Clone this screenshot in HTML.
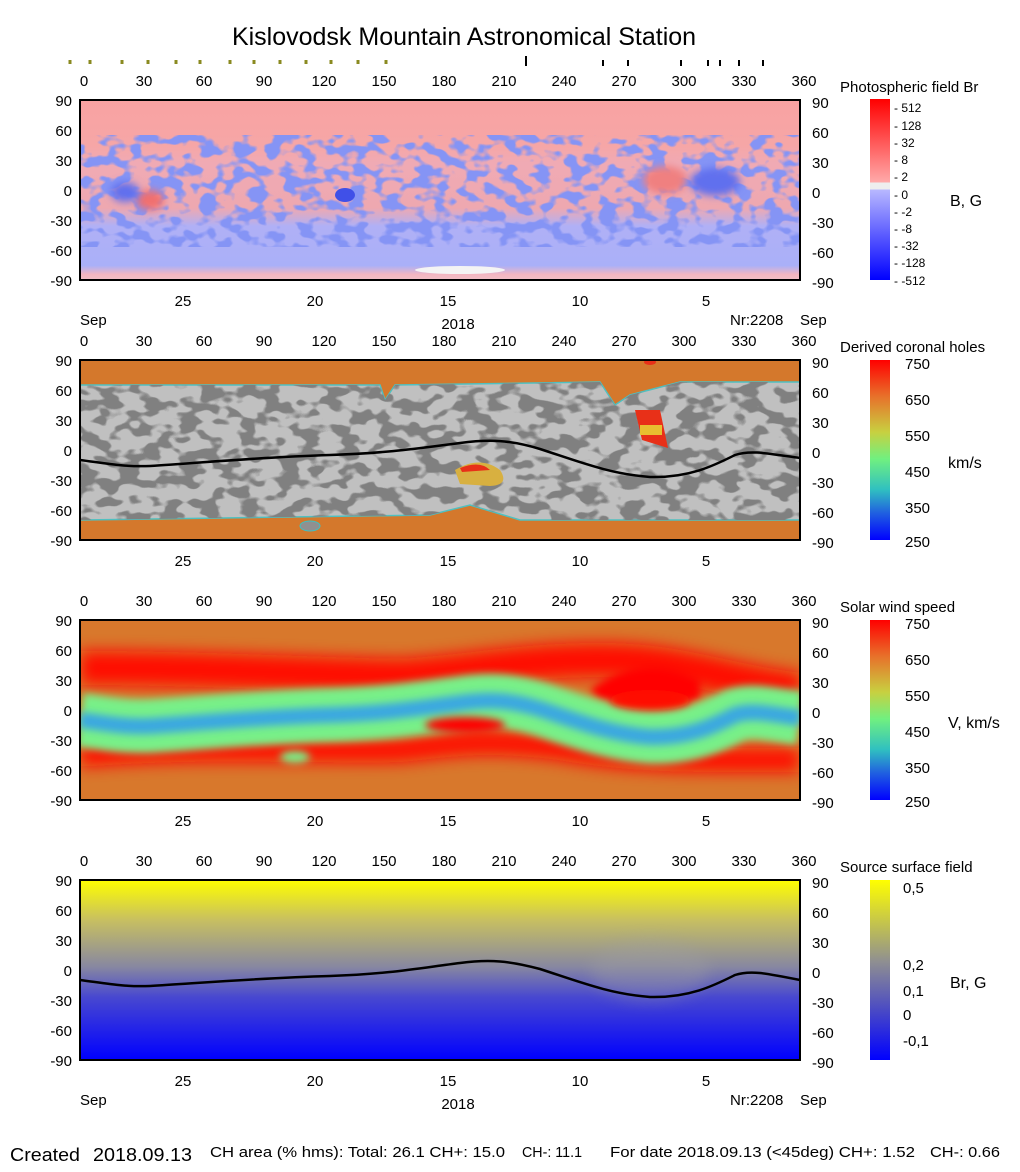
<!DOCTYPE html>
<html><head><meta charset="utf-8"><style>
body{margin:0;background:#fff}
svg{display:block;font-family:"Liberation Sans",Arial,sans-serif}
.t{font-size:15px;fill:#000}
</style></head><body>
<svg width="1020" height="1172" viewBox="0 0 1020 1172" xmlns="http://www.w3.org/2000/svg">
<defs>
<filter id="nb" x="0" y="0" width="100%" height="100%" color-interpolation-filters="sRGB"><feTurbulence type="fractalNoise" baseFrequency="0.06 0.09" numOctaves="2" seed="3"/><feColorMatrix type="matrix" values="0 0 0 0 0.52  0 0 0 0 0.58  0 0 0 0 0.96  8 0 0 0 -3.8"/></filter>
<filter id="ng2" x="0" y="0" width="100%" height="100%" color-interpolation-filters="sRGB"><feTurbulence type="fractalNoise" baseFrequency="0.05 0.08" numOctaves="2" seed="7"/><feColorMatrix type="matrix" values="0 0 0 0 0.5  0 0 0 0 0.5  0 0 0 0 0.5  12 0 0 0 -5.8"/></filter>
<filter id="bl" filterUnits="userSpaceOnUse" x="0" y="0" width="1020" height="1172"><feGaussianBlur stdDeviation="8"/></filter>
<filter id="bl2" filterUnits="userSpaceOnUse" x="0" y="0" width="1020" height="1172"><feGaussianBlur stdDeviation="4"/></filter>
<linearGradient id="g1" x1="0" y1="0" x2="0" y2="1">
<stop offset="0" stop-color="#f9a2a2"/><stop offset="0.25" stop-color="#f6a6a6"/><stop offset="0.35" stop-color="#f0aab4"/><stop offset="0.6" stop-color="#eea8b0"/><stop offset="0.7" stop-color="#b0b0f6"/><stop offset="0.92" stop-color="#aab0f8"/><stop offset="0.97" stop-color="#f4b6c0"/><stop offset="1" stop-color="#f0c0c8"/></linearGradient>
<linearGradient id="cb1" x1="0" y1="0" x2="0" y2="1">
<stop offset="0" stop-color="#ff0000"/><stop offset="0.46" stop-color="#ffaaaa"/><stop offset="0.46" stop-color="#eeeeee"/><stop offset="0.5" stop-color="#eeeeee"/><stop offset="0.5" stop-color="#b8b8ff"/><stop offset="1" stop-color="#0000ff"/></linearGradient>
<linearGradient id="cb2" x1="0" y1="0" x2="0" y2="1">
<stop offset="0" stop-color="#ff0000"/><stop offset="0.2" stop-color="#e8702a"/><stop offset="0.4" stop-color="#c8d040"/><stop offset="0.55" stop-color="#70f080"/><stop offset="0.72" stop-color="#30c0c0"/><stop offset="0.85" stop-color="#2060e0"/><stop offset="1" stop-color="#0000ff"/></linearGradient>
<linearGradient id="cb4" x1="0" y1="0" x2="0" y2="1">
<stop offset="0" stop-color="#ffff00"/><stop offset="0.45" stop-color="#909090"/><stop offset="0.7" stop-color="#5050c0"/><stop offset="1" stop-color="#0000ff"/></linearGradient>
<linearGradient id="g4" x1="0" y1="0" x2="0" y2="1">
<stop offset="0" stop-color="#ffff00"/><stop offset="0.22" stop-color="#c8c060"/><stop offset="0.48" stop-color="#8888a0"/><stop offset="0.65" stop-color="#4848d0"/><stop offset="1" stop-color="#0000ff"/></linearGradient>
<clipPath id="c1"><rect x="80" y="100" width="720" height="180"/></clipPath>
<clipPath id="c2"><rect x="80" y="360" width="720" height="180"/></clipPath>
<clipPath id="c3"><rect x="80" y="620" width="720" height="180"/></clipPath>
<clipPath id="cm"><path d="M80 385 L380 385 L385 400 L395 385 L600 382 L615 405 L630 395 L680 382 L800 382 L800 520 L520 520 L470 505 L430 515 L80 520Z"/></clipPath>
</defs>

<text x="464" y="45" font-size="25" text-anchor="middle">Kislovodsk Mountain Astronomical Station</text>
<g stroke="#8a8a20" stroke-width="3"><path d="M70 60v4M90 60v4M122 60v4M148 60v4M176 60v4M200 60v4M230 60v4M254 60v4M280 60v4M306 60v4M331 60v4M358 60v4M386 60v4"/></g>
<g stroke="#000" stroke-width="2"><path d="M526 56v10M603 60v6M628 60v6M681 60v6M708 60v6M720 60v6M739 60v6M763 60v6"/></g>

<!-- Panel 1 -->
<g clip-path="url(#c1)">
<rect x="80" y="100" width="720" height="180" fill="url(#g1)"/>
<rect x="80" y="135" width="720" height="112" filter="url(#nb)"/>
<ellipse cx="150" cy="200" rx="14" ry="10" fill="#f07070" filter="url(#bl2)"/>
<ellipse cx="125" cy="192" rx="14" ry="10" fill="#6070ee" filter="url(#bl2)"/>
<ellipse cx="345" cy="195" rx="10" ry="7" fill="#4050e8"/>
<ellipse cx="665" cy="180" rx="22" ry="14" fill="#f08080" filter="url(#bl2)"/>
<ellipse cx="715" cy="182" rx="25" ry="14" fill="#6070ee" filter="url(#bl2)"/>
<ellipse cx="460" cy="270" rx="45" ry="4" fill="#f4f4f4"/>
</g>
<rect x="80" y="100" width="720" height="180" fill="none" stroke="#000" stroke-width="2"/>
<rect x="870" y="99" width="20" height="181" fill="url(#cb1)"/>
<text x="840" y="92" class="t">Photospheric field Br</text>
<text x="950" y="206" font-size="16">B, G</text>
<g font-size="12"><text x="894" y="112">- 512</text><text x="894" y="130">- 128</text><text x="894" y="147">- 32</text><text x="894" y="164">- 8</text><text x="894" y="181">- 2</text><text x="894" y="199">- 0</text><text x="894" y="216">- -2</text><text x="894" y="233">- -8</text><text x="894" y="250">- -32</text><text x="894" y="267">- -128</text><text x="894" y="285">- -512</text></g>
<g class="t" text-anchor="middle"><text x="84" y="86">0</text><text x="144" y="86">30</text><text x="204" y="86">60</text><text x="264" y="86">90</text><text x="324" y="86">120</text><text x="384" y="86">150</text><text x="444" y="86">180</text><text x="504" y="86">210</text><text x="564" y="86">240</text><text x="624" y="86">270</text><text x="684" y="86">300</text><text x="744" y="86">330</text><text x="804" y="86">360</text></g>
<g class="t" text-anchor="end"><text x="72" y="106">90</text><text x="72" y="136">60</text><text x="72" y="166">30</text><text x="72" y="196">0</text><text x="72" y="226">-30</text><text x="72" y="256">-60</text><text x="72" y="286">-90</text></g>
<g class="t"><text x="812" y="108">90</text><text x="812" y="138">60</text><text x="812" y="168">30</text><text x="812" y="198">0</text><text x="812" y="228">-30</text><text x="812" y="258">-60</text><text x="812" y="288">-90</text></g>
<g class="t" text-anchor="middle"><text x="183" y="306">25</text><text x="315" y="306">20</text><text x="448" y="306">15</text><text x="580" y="306">10</text><text x="706" y="306">5</text><text x="458" y="329">2018</text></g>
<g class="t"><text x="80" y="325">Sep</text><text x="730" y="325">Nr:2208</text><text x="800" y="325">Sep</text></g>

<!-- Panel 2 -->
<g clip-path="url(#c2)">
<rect x="80" y="360" width="720" height="180" fill="#d4782c"/>
<path d="M80 385 L380 385 L385 400 L395 385 L600 382 L615 405 L630 395 L680 382 L800 382 L800 520 L520 520 L470 505 L430 515 L80 520Z" fill="#c0c0c0" stroke="#50c0c0" stroke-width="1.5"/>
<rect x="80" y="380" width="720" height="142" filter="url(#ng2)" clip-path="url(#cm)"/>
<path d="M635 410 L660 410 L668 448 L642 440Z" fill="#e83018"/>
<rect x="640" y="425" width="22" height="10" fill="#e8c030"/>
<path d="M455 470 Q480 455 500 470 Q510 485 490 486 L460 484Z" fill="#d8b040"/>
<path d="M460 468 Q480 460 490 470 L462 472Z" fill="#e83018"/>
<ellipse cx="310" cy="526" rx="10" ry="5" fill="#909090" stroke="#40c0c0"/>
<ellipse cx="650" cy="362" rx="6" ry="3" fill="#e83018"/>
<path d="M80 460 C110 464 125 467 150 466 C200 463 260 457 330 455 C390 453 420 448 460 443 C490 439 510 440 540 449 C580 462 610 474 650 477 C690 478 715 465 735 455 C750 450 765 453 800 458" fill="none" stroke="#000" stroke-width="2.5"/>
</g>
<rect x="80" y="360" width="720" height="180" fill="none" stroke="#000" stroke-width="2"/>
<rect x="870" y="360" width="20" height="180" fill="url(#cb2)"/>
<text x="840" y="352" class="t">Derived coronal holes</text>
<text x="948" y="468" font-size="16">km/s</text>
<g class="t"><text x="905" y="369">750</text><text x="905" y="405">650</text><text x="905" y="441">550</text><text x="905" y="477">450</text><text x="905" y="513">350</text><text x="905" y="547">250</text></g>
<g class="t" text-anchor="middle"><text x="84" y="346">0</text><text x="144" y="346">30</text><text x="204" y="346">60</text><text x="264" y="346">90</text><text x="324" y="346">120</text><text x="384" y="346">150</text><text x="444" y="346">180</text><text x="504" y="346">210</text><text x="564" y="346">240</text><text x="624" y="346">270</text><text x="684" y="346">300</text><text x="744" y="346">330</text><text x="804" y="346">360</text></g>
<g class="t" text-anchor="end"><text x="72" y="366">90</text><text x="72" y="396">60</text><text x="72" y="426">30</text><text x="72" y="456">0</text><text x="72" y="486">-30</text><text x="72" y="516">-60</text><text x="72" y="546">-90</text></g>
<g class="t"><text x="812" y="368">90</text><text x="812" y="398">60</text><text x="812" y="428">30</text><text x="812" y="458">0</text><text x="812" y="488">-30</text><text x="812" y="518">-60</text><text x="812" y="548">-90</text></g>
<g class="t" text-anchor="middle"><text x="183" y="566">25</text><text x="315" y="566">20</text><text x="448" y="566">15</text><text x="580" y="566">10</text><text x="706" y="566">5</text></g>

<!-- Panel 3 -->
<g clip-path="url(#c3)">
<rect x="80" y="620" width="720" height="180" fill="#d8782c"/>
<path d="M80 668 C200 668 300 674 400 676 C470 672 520 660 600 660 C680 660 720 680 800 690" fill="none" stroke="#ff1000" stroke-width="34" filter="url(#bl)"/>
<path d="M80 755 C200 745 300 752 400 750 C450 745 480 738 560 748 C640 762 700 760 800 760" fill="none" stroke="#ff1000" stroke-width="24" filter="url(#bl)"/>
<path d="M590 690 Q640 650 700 680 L700 700 Q640 705 600 700Z" fill="#ff0000" filter="url(#bl2)"/>
<path d="M80 720 C110 724 125 727 150 726 C200 723 260 717 330 715 C390 713 420 708 460 703 C490 699 510 700 540 709 C580 722 610 734 650 737 C690 738 715 725 735 715 C750 710 765 713 800 718" fill="none" stroke="#78f088" stroke-width="54" filter="url(#bl2)"/>
<path d="M80 720 C110 724 125 727 150 726 C200 723 260 717 330 715 C390 713 420 708 460 703 C490 699 510 700 540 709 C580 722 610 734 650 737 C690 738 715 725 735 715 C750 710 765 713 800 718" fill="none" stroke="#3aa8e0" stroke-width="16" filter="url(#bl2)"/>
<ellipse cx="465" cy="725" rx="40" ry="8" fill="#ff0000" filter="url(#bl2)"/>
<ellipse cx="650" cy="700" rx="40" ry="10" fill="#ff1000" filter="url(#bl2)"/>
<ellipse cx="295" cy="757" rx="15" ry="6" fill="#78f088" filter="url(#bl2)"/>
</g>
<rect x="80" y="620" width="720" height="180" fill="none" stroke="#000" stroke-width="2"/>
<rect x="870" y="620" width="20" height="180" fill="url(#cb2)"/>
<text x="840" y="612" class="t">Solar wind speed</text>
<text x="948" y="728" font-size="16">V, km/s</text>
<g class="t"><text x="905" y="629">750</text><text x="905" y="665">650</text><text x="905" y="701">550</text><text x="905" y="737">450</text><text x="905" y="773">350</text><text x="905" y="807">250</text></g>
<g class="t" text-anchor="middle"><text x="84" y="606">0</text><text x="144" y="606">30</text><text x="204" y="606">60</text><text x="264" y="606">90</text><text x="324" y="606">120</text><text x="384" y="606">150</text><text x="444" y="606">180</text><text x="504" y="606">210</text><text x="564" y="606">240</text><text x="624" y="606">270</text><text x="684" y="606">300</text><text x="744" y="606">330</text><text x="804" y="606">360</text></g>
<g class="t" text-anchor="end"><text x="72" y="626">90</text><text x="72" y="656">60</text><text x="72" y="686">30</text><text x="72" y="716">0</text><text x="72" y="746">-30</text><text x="72" y="776">-60</text><text x="72" y="806">-90</text></g>
<g class="t"><text x="812" y="628">90</text><text x="812" y="658">60</text><text x="812" y="688">30</text><text x="812" y="718">0</text><text x="812" y="748">-30</text><text x="812" y="778">-60</text><text x="812" y="808">-90</text></g>
<g class="t" text-anchor="middle"><text x="183" y="826">25</text><text x="315" y="826">20</text><text x="448" y="826">15</text><text x="580" y="826">10</text><text x="706" y="826">5</text></g>

<!-- Panel 4 -->
<rect x="80" y="880" width="720" height="180" fill="url(#g4)"/>
<ellipse cx="650" cy="970" rx="60" ry="30" fill="#a0a0a0" opacity="0.35" filter="url(#bl)"/>
<path d="M80 980 C110 984 125 987 150 986 C200 983 260 978 330 976 C390 974 420 968 460 963 C490 959 510 961 540 969 C580 982 610 994 650 997 C690 998 715 985 735 975 C750 970 765 973 800 980" fill="none" stroke="#000" stroke-width="2.5"/>
<rect x="80" y="880" width="720" height="180" fill="none" stroke="#000" stroke-width="2"/>
<rect x="870" y="880" width="20" height="180" fill="url(#cb4)"/>
<text x="840" y="872" class="t">Source surface field</text>
<text x="950" y="988" font-size="16">Br, G</text>
<g class="t"><text x="903" y="893">0,5</text><text x="903" y="970">0,2</text><text x="903" y="996">0,1</text><text x="903" y="1020">0</text><text x="903" y="1046">-0,1</text></g>
<g class="t" text-anchor="middle"><text x="84" y="866">0</text><text x="144" y="866">30</text><text x="204" y="866">60</text><text x="264" y="866">90</text><text x="324" y="866">120</text><text x="384" y="866">150</text><text x="444" y="866">180</text><text x="504" y="866">210</text><text x="564" y="866">240</text><text x="624" y="866">270</text><text x="684" y="866">300</text><text x="744" y="866">330</text><text x="804" y="866">360</text></g>
<g class="t" text-anchor="end"><text x="72" y="886">90</text><text x="72" y="916">60</text><text x="72" y="946">30</text><text x="72" y="976">0</text><text x="72" y="1006">-30</text><text x="72" y="1036">-60</text><text x="72" y="1066">-90</text></g>
<g class="t"><text x="812" y="888">90</text><text x="812" y="918">60</text><text x="812" y="948">30</text><text x="812" y="978">0</text><text x="812" y="1008">-30</text><text x="812" y="1038">-60</text><text x="812" y="1068">-90</text></g>
<g class="t" text-anchor="middle"><text x="183" y="1086">25</text><text x="315" y="1086">20</text><text x="448" y="1086">15</text><text x="580" y="1086">10</text><text x="706" y="1086">5</text><text x="458" y="1109">2018</text></g>
<g class="t"><text x="80" y="1105">Sep</text><text x="730" y="1105">Nr:2208</text><text x="800" y="1105">Sep</text></g>

<g font-size="18"><text x="10" y="1161" textLength="70" lengthAdjust="spacingAndGlyphs">Created</text><text x="93" y="1161" textLength="99" lengthAdjust="spacingAndGlyphs">2018.09.13</text></g>
<g font-size="15"><text x="210" y="1157" textLength="295" lengthAdjust="spacingAndGlyphs">CH area (% hms): Total: 26.1 CH+: 15.0</text><text x="522" y="1157" textLength="60" lengthAdjust="spacingAndGlyphs">CH-: 11.1</text><text x="610" y="1157" textLength="305" lengthAdjust="spacingAndGlyphs">For date 2018.09.13 (&lt;45deg) CH+: 1.52</text><text x="930" y="1157" textLength="70" lengthAdjust="spacingAndGlyphs">CH-: 0.66</text></g>
</svg>
</body></html>
